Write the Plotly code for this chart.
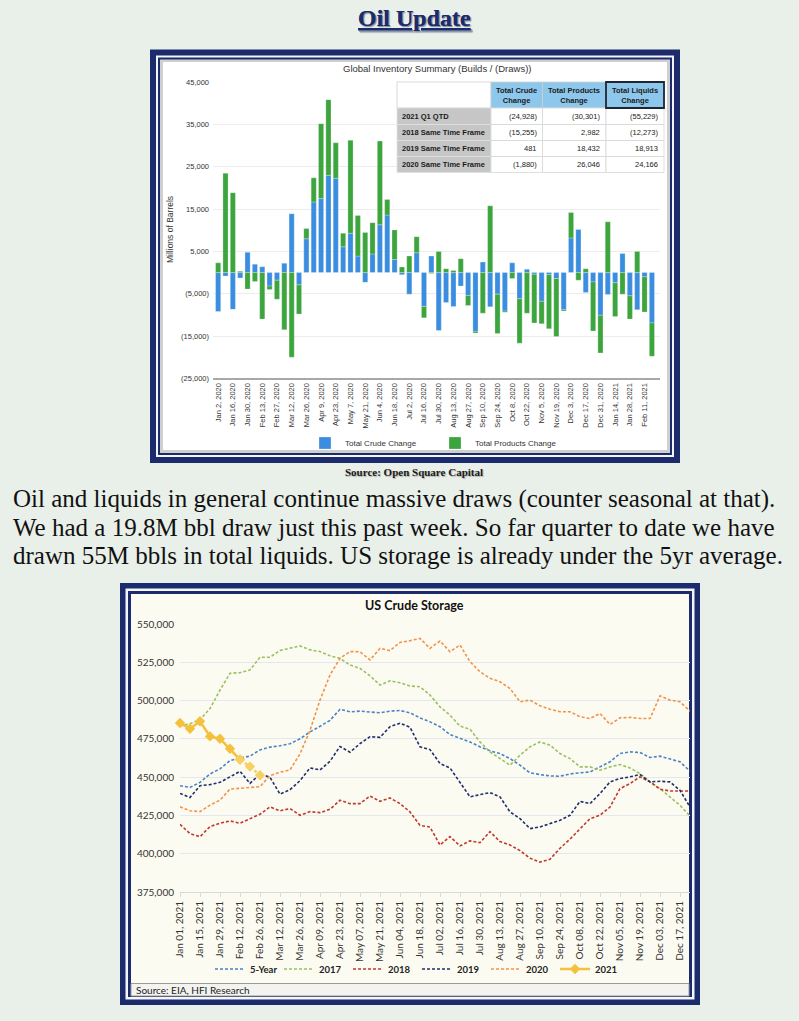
import plotly.graph_objects as go

W, H = 799, 1021
def px(x): return x / W
def py(y): return 1 - y / H

# ---------------- Top chart data (weekly builds/draws, thousand bbl) ----------------
week_index = list(range(60))
top_tick_vals = list(range(0, 60, 2))
top_tick_labels = ["Jan 2, 2020", "Jan 16, 2020", "Jan 30, 2020", "Feb 13, 2020", "Feb 27, 2020",
                   "Mar 12, 2020", "Mar 26, 2020", "Apr 9, 2020", "Apr 23, 2020", "May 7, 2020",
                   "May 21, 2020", "Jun 4, 2020", "Jun 18, 2020", "Jul 2, 2020", "Jul 16, 2020",
                   "Jul 30, 2020", "Aug 13, 2020", "Aug 27, 2020", "Sep 10, 2020", "Sep 24, 2020",
                   "Oct 8, 2020", "Oct 22, 2020", "Nov 5, 2020", "Nov 19, 2020", "Dec 3, 2020",
                   "Dec 17, 2020", "Dec 31, 2020", "Jan 14, 2021", "Jan 28, 2021", "Feb 11, 2021"]
crude_change = [-9200, -800, -8700, -1300, 4800, 2000, 1400, -3200, -1800, 2200,
                13900, -2900, 8000, 16700, 17500, 23000, 22300, 6100, 9300, 3900,
                -2300, 4400, 11300, 13600, 3100, -500, -5100, 4700, -8000, 3900,
                -13700, -7100, -8000, -3200, -5400, -13900, 2500, -8100, -5100, -9100,
                2300, -6200, 800, -400, -6800, -500, -1400, -8800, 8200, 10200,
                -4700, -2200, -10100, -5200, -2400, 4500, -5500, -8800, -1000, -11900]
products_change = [2300, 23500, 18900, 300, -3900, -2100, -11000, -800, -4500, -13500,
                   -20000, -6900, 2400, 5700, 17700, 17900, 8400, 3200, 22000, 9600,
                   9500, 7400, 19800, 3700, 7000, 1300, 3900, 3800, -2700, -200,
                   5000, 900, 500, 3300, -2400, -400, -9600, 15800, -9300, -300,
                   -1400, -10500, -9600, -11500, -5300, -12800, -13700, -300, 6000, -1800,
                   900, -11600, -8900, 12000, -8000, -5100, -5500, 5000, -8300, -7900]
top_y_ticks = [-25000, -15000, -5000, 5000, 15000, 25000, 35000, 45000]

# Summary table
table_header = ["", "Total Crude<br>Change", "Total Products<br>Change", "Total Liquids<br>Change"]
table_rows = ["2021 Q1 QTD", "2018 Same Time Frame", "2019 Same Time Frame", "2020 Same Time Frame"]
table_crude = [-24928, -15255, 481, -1880]
table_products = [-30301, 2982, 18432, 26046]
table_liquids = [-55229, -12273, 18913, 24166]

# ---------------- Bottom chart data (US crude storage, thousand bbl) ----------------
storage_weeks = list(range(52))
bottom_tick_vals = list(range(0, 52, 2))
bottom_tick_labels = ["Jan 01, 2021", "Jan 15, 2021", "Jan 29, 2021", "Feb 12, 2021", "Feb 26, 2021",
                      "Mar 12, 2021", "Mar 26, 2021", "Apr 09, 2021", "Apr 23, 2021", "May 07, 2021",
                      "May 21, 2021", "Jun 04, 2021", "Jun 18, 2021", "Jul 02, 2021", "Jul 16, 2021",
                      "Jul 30, 2021", "Aug 13, 2021", "Aug 27, 2021", "Sep 10, 2021", "Sep 24, 2021",
                      "Oct 08, 2021", "Oct 22, 2021", "Nov 05, 2021", "Nov 19, 2021", "Dec 03, 2021",
                      "Dec 17, 2021"]
storage_5yr = [444400, 443300, 446600, 452100, 455400, 460800, 462600, 463700, 467800, 469600,
               470500, 471800, 475100, 479500, 483200, 487100, 494300, 492600, 493100, 492700,
               492000, 493100, 493500, 492000, 488700, 486100, 482900, 477800, 475200, 473000,
               469800, 467200, 465400, 462100, 457800, 452800, 451700, 450800, 450600, 452100,
               452800, 453400, 456700, 460000, 465400, 466500, 466100, 462800, 463700, 462100,
               460000, 453900]
storage_2017 = [483400, 484900, 487500, 494800, 506800, 517800, 518200, 520000, 528300, 528300,
                532700, 534000, 535700, 533100, 532000, 529200, 527600, 523200, 521000, 516200,
                510100, 512900, 511600, 509500, 509000, 503600, 495900, 490500, 483300, 481300,
                473000, 466500, 462100, 457800, 464300, 469800, 473000, 470900, 465400, 462100,
                456700, 456700, 454500, 456700, 458200, 456000, 452300, 446900, 442500, 437100,
                431600, 424600]
storage_2018 = [419200, 413100, 411100, 417700, 419900, 421400, 419900, 423000, 425800, 430600,
                428000, 429500, 425100, 427500, 426800, 429000, 434900, 432700, 432700, 437700,
                434200, 436400, 432700, 427300, 418500, 417400, 405700, 411200, 405100, 408400,
                407200, 414400, 407900, 405700, 402000, 397100, 394500, 396400, 403600, 409500,
                416000, 422900, 425100, 430500, 442500, 445800, 450200, 446900, 442100, 441000,
                441000, 441000]
storage_2019 = [439400, 436700, 444400, 445100, 446600, 450300, 453800, 445900, 452100, 449900,
                438900, 441800, 447700, 456000, 454700, 460400, 470000, 466300, 471900, 476400,
                476000, 483000, 485200, 482600, 469800, 468000, 458900, 456000, 446900, 437100,
                438600, 439900, 437100, 427300, 422900, 416400, 417500, 419600, 421800, 425100,
                434200, 432700, 439300, 446900, 449100, 450200, 451700, 446900, 447300, 446900,
                441400, 430500]
storage_2020 = [430600, 428000, 427500, 431700, 435000, 442200, 442700, 443300, 443800, 451000,
                453200, 454700, 465200, 480500, 500300, 516700, 527600, 532000, 531900, 526500,
                534100, 532600, 538000, 539100, 540600, 534100, 538900, 531900, 536300, 525400,
                518800, 514500, 512300, 507900, 499200, 500300, 496600, 494400, 492700, 492700,
                489400, 488300, 491600, 484400, 488700, 489000, 488300, 488300, 503100, 500300,
                499200, 493100]
storage_2021 = [485400, 481600, 486500, 476600, 475100, 468500, 461500, 456900, 451200]
estimate_start = 6  # last points of 2021 drawn as a lighter dotted segment

# ---------------- Styling ----------------
BG = "#E9EFE9"
NAVY = "#1B2B6C"
BLUE_BAR = "#3B8EDF"
GREEN_BAR = "#3DA53D"
SANS = "Liberation Sans"
CAL = "Lato"
SERIF = "Liberation Serif"

def fmt(v):
    return f"({abs(v):,})" if v < 0 else f"{v:,}"

fig = go.Figure()

# Top bars
fig.add_trace(go.Bar(x=week_index, y=crude_change, name="Total Crude Change",
                     marker=dict(color=BLUE_BAR, line=dict(color="rgba(255,255,255,0.5)", width=0.5)),
                     xaxis="x", yaxis="y", legend="legend"))
fig.add_trace(go.Bar(x=week_index, y=products_change, name="Total Products Change",
                     marker=dict(color=GREEN_BAR, line=dict(color="rgba(255,255,255,0.5)", width=0.5)),
                     xaxis="x", yaxis="y", legend="legend"))

# Bottom lines
dash = "3px,2px"
series = [("5-Year", storage_5yr, "#4A83C6"),
          ("2017", storage_2017, "#9BC063"),
          ("2018", storage_2018, "#C0392E"),
          ("2019", storage_2019, "#1F2F6B"),
          ("2020", storage_2020, "#F2924C")]
for name, vals, col in series:
    fig.add_trace(go.Scatter(x=storage_weeks, y=vals, name=name, mode="lines",
                             line=dict(color=col, width=1.6, dash=dash),
                             xaxis="x2", yaxis="y2", legend="legend2"))
YEL = "#F4C13E"
fig.add_trace(go.Scatter(x=storage_weeks[:estimate_start + 1], y=storage_2021[:estimate_start + 1],
                         name="2021", mode="lines+markers", legendgroup="2021",
                         line=dict(color=YEL, width=2.6),
                         marker=dict(symbol="diamond", size=8, color=YEL),
                         cliponaxis=False, xaxis="x2", yaxis="y2", legend="legend2"))
fig.add_trace(go.Scatter(x=storage_weeks[estimate_start:len(storage_2021)], y=storage_2021[estimate_start:],
                         name="2021", mode="lines+markers", legendgroup="2021", showlegend=False,
                         line=dict(color="#F7CF62", width=2.6, dash="dot"),
                         marker=dict(symbol="diamond", size=8, color="#F7CF62"),
                         cliponaxis=False, xaxis="x2", yaxis="y2", legend="legend2"))

# ---------------- Frames (shapes) ----------------
shapes = []
def rect(x0, y0, x1, y1, fill, line_color=None, lw=0, layer="below"):
    shapes.append(dict(type="rect", xref="paper", yref="paper", layer=layer,
                       x0=px(x0), x1=px(x1), y0=py(y1), y1=py(y0), fillcolor=fill,
                       line=dict(color=line_color or fill, width=lw)))

# Top frame
rect(150, 49.5, 680, 463, NAVY)
rect(156, 55.5, 674, 457, "#F4F6FA")
rect(158, 57.5, 672, 455, NAVY)
rect(160, 59.5, 670, 453, "#CFCFCF")
rect(163, 62, 667, 450, "white")
# Bottom frame
rect(120, 583, 700, 1005, NAVY)
rect(125.5, 588.5, 694.5, 999.5, "#F4F6FA")
rect(128, 591, 692, 997, NAVY)
rect(131, 594, 689, 996, "#FCFBF1")
rect(131, 983.5, 689, 996, "#F3F3EF", "#9A9A9A", 1)

ann = []

# ---------------- Summary table (cells built from the table lists) ----------------
col_edges = [397, 491, 542.5, 606, 664]
row_edges = [82, 108, 124.5, 140.5, 156.5, 172.5]
HDR = "#8DC8EC"
TBL_FONT = dict(family=SANS, size=7.5, color="#1a1a1a")
for c, label in enumerate(table_header):
    rect(col_edges[c], row_edges[0], col_edges[c + 1], row_edges[1],
         "white" if c == 0 else HDR, "#CFCFCF", 0.8, layer="above")
    if label:
        ann.append(dict(text=f"<b>{label}</b>", x=px((col_edges[c] + col_edges[c + 1]) / 2),
                        y=py((row_edges[0] + row_edges[1]) / 2), xref="paper", yref="paper",
                        showarrow=False, xanchor="center", yanchor="middle", font=TBL_FONT))
columns = [table_rows, [fmt(v) for v in table_crude], [fmt(v) for v in table_products],
           [fmt(v) for v in table_liquids]]
for r in range(len(table_rows)):
    y0, y1 = row_edges[r + 1], row_edges[r + 2]
    for c, col in enumerate(columns):
        rect(col_edges[c], y0, col_edges[c + 1], y1, "#C6C6C6" if c == 0 else "white",
             "#E2E2E2" if c == 0 else "#D6D6D6", 0.8, layer="above")
        if c == 0:
            ann.append(dict(text=f"<b>{col[r]}</b>", x=px(col_edges[0] + 3), y=py((y0 + y1) / 2),
                            xref="paper", yref="paper", showarrow=False, xanchor="left",
                            yanchor="middle", font=TBL_FONT))
        else:
            ann.append(dict(text=col[r], x=px(col_edges[c + 1] - 4), y=py((y0 + y1) / 2),
                            xref="paper", yref="paper", showarrow=False, xanchor="right",
                            yanchor="middle", font=TBL_FONT))
# Highlight border of Total Liquids header
shapes.append(dict(type="rect", xref="paper", yref="paper", layer="above",
                   x0=px(col_edges[3]), x1=px(col_edges[4]), y0=py(row_edges[1]), y1=py(row_edges[0]),
                   line=dict(color="#1E2633", width=1.8)))

# ---------------- Text ----------------
ann.append(dict(text="<b><u>Oil Update</u></b>", x=px(414), y=py(18), xref="paper", yref="paper",
                showarrow=False, xanchor="center", yanchor="middle",
                font=dict(family=SERIF, size=24, color=NAVY, shadow="1px 1px 1px #8a96a8")))
ann.append(dict(text="Global Inventory Summary (Builds / (Draws))", x=px(437), y=py(68),
                xref="paper", yref="paper", showarrow=False, xanchor="center", yanchor="middle",
                font=dict(family=SANS, size=9.5, color="#333")))
ann.append(dict(text="Millions of Barrels", x=px(170), y=py(230), xref="paper", yref="paper",
                showarrow=False, textangle=-90, xanchor="center", yanchor="middle",
                font=dict(family=SANS, size=8.5, color="#333")))
ann.append(dict(text="<b>Source: Open Square Capital</b>", x=px(414), y=py(472), xref="paper", yref="paper",
                showarrow=False, xanchor="center", yanchor="middle",
                font=dict(family=SERIF, size=11, color="#1a1a1a", shadow="1px 1px 1px #b0b0b0")))
para = ["Oil and liquids in general continue massive draws (counter seasonal at that).",
        "We had a 19.8M bbl draw just this past week. So far quarter to date we have",
        "drawn 55M bbls in total liquids. US storage is already under the 5yr average."]
for i, line in enumerate(para):
    ann.append(dict(text=line, x=px(11), y=py(499 + 28 * i), xref="paper", yref="paper",
                    showarrow=False, xanchor="left", yanchor="middle",
                    font=dict(family=SERIF, size=25, color="#111")))
ann.append(dict(text="<b>US Crude Storage</b>", x=px(415), y=py(605), xref="paper", yref="paper",
                showarrow=False, xanchor="center", yanchor="middle",
                font=dict(family=CAL, size=12.5, color="#111")))
ann.append(dict(text="Source: EIA, HFI Research", x=px(134), y=py(990), xref="paper", yref="paper",
                showarrow=False, xanchor="left", yanchor="middle",
                font=dict(family=CAL, size=10, color="#222")))

fig.update_layout(
    width=W, height=H, autosize=False,
    margin=dict(l=0, r=0, t=0, b=0, pad=0),
    paper_bgcolor=BG, plot_bgcolor="rgba(0,0,0,0)",
    barmode="relative", bargap=0.3,
    shapes=shapes, annotations=ann,
    xaxis=dict(domain=[px(213), px(660)], range=[-0.7, 60.1], anchor="y", automargin=False,
               tickvals=top_tick_vals, ticktext=top_tick_labels, tickangle=-90,
               tickfont=dict(family=SANS, size=7.5, color="#333"),
               showgrid=False, zeroline=False, showline=True, linecolor="#A8A8A8", linewidth=1.5),
    yaxis=dict(domain=[py(378.3), py(82.3)], range=[-25000, 45000], anchor="x", automargin=False,
               tickvals=top_y_ticks, ticktext=[fmt(v) for v in top_y_ticks],
               tickfont=dict(family=SANS, size=7.5, color="#333"), ticklabelstandoff=3,
               gridcolor="#ECECEC", zeroline=False, showline=False),
    xaxis2=dict(domain=[px(180), px(690)], range=[0, 51], anchor="y2", automargin=False,
                tickvals=bottom_tick_vals, ticktext=bottom_tick_labels, tickangle=-90,
                tickfont=dict(family=CAL, size=10, color="#333"),
                showgrid=False, zeroline=False, showline=True, linecolor="#D9D9D9",
                ticks="outside", ticklen=4, tickcolor="#D9D9D9"),
    yaxis2=dict(domain=[py(892), py(624)], range=[375000, 550000], anchor="x2", automargin=False,
                dtick=25000, tickformat=",", ticklabelstandoff=5,
                tickfont=dict(family=CAL, size=10, color="#333"),
                gridcolor="#E3E7EE", zeroline=False, showline=False),
    legend=dict(orientation="h", x=px(435), y=py(443), xanchor="center", yanchor="middle",
                bgcolor="rgba(0,0,0,0)", font=dict(family=SANS, size=8, color="#333"),
                itemwidth=30, entrywidth=85, traceorder="normal"),
    legend2=dict(orientation="h", x=px(417), y=py(969), xanchor="center", yanchor="middle",
                 bgcolor="rgba(0,0,0,0)", font=dict(family=CAL, size=9.5, color="#222", weight="bold"),
                 itemwidth=30, entrywidth=24, traceorder="normal"),
    showlegend=True,
)

fig.write_html("out.html", config={"displayModeBar": False},
               post_script="document.body.style.margin='0px';document.body.style.padding='0px';")
